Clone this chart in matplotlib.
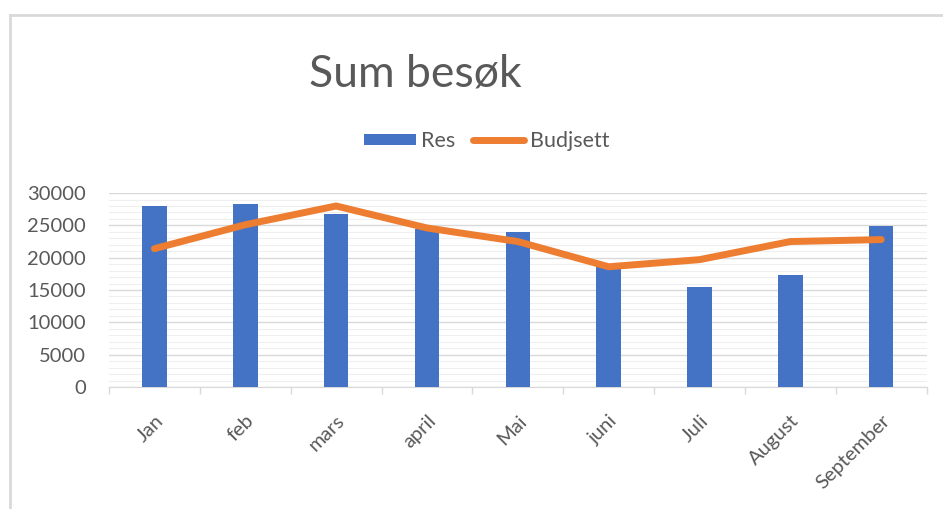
import matplotlib
matplotlib.use("Agg")
import matplotlib.pyplot as plt
from matplotlib.lines import Line2D
import numpy as np

# data
months = ["Jan", "feb", "mars", "april", "Mai", "juni", "Juli", "August", "September"]
res = [28000, 28300, 26800, 24500, 24000, 18700, 15500, 17400, 24900]
budsjett = [21400, 25100, 28000, 24600, 22500, 18600, 19700, 22500, 22800]
yticks = [0, 5000, 10000, 15000, 20000, 25000, 30000]

plt.rcParams["font.family"] = ["Lato", "DejaVu Sans"]
grey = "#595959"

fig = plt.figure(figsize=(9.43, 5.09), dpi=100)
ax = fig.add_axes([0.1156, 0.2397, 0.867, 0.381])

x = np.arange(len(months))
bars = ax.bar(x, res, width=0.27, color="#4472C4", label="Res", zorder=3)
line, = ax.plot(x, budsjett, color="#ED7D31", linewidth=5, solid_capstyle="round",
                solid_joinstyle="round", label="Budjsett", zorder=4)

ax.set_xlim(-0.5, len(months) - 0.5)
ax.set_ylim(0, 30000)
ax.set_yticks(yticks)
ax.set_yticks(np.arange(0, 30001, 1000), minor=True)
ax.yaxis.grid(True, which="major", color="#d9d9d9", linewidth=1, zorder=0)
ax.yaxis.grid(True, which="minor", color="#efefef", linewidth=0.8, zorder=0)
ax.tick_params(axis="y", which="both", length=0, labelsize=14.5, labelcolor=grey, pad=16.5)

ax.set_xticks(x)
ax.set_xticks(np.arange(-0.5, len(months), 1), minor=True)
ax.set_xticklabels(months, rotation=45, ha="right", rotation_mode="anchor")
ax.tick_params(axis="x", which="major", length=0, labelsize=14.5, labelcolor=grey, pad=18)
ax.tick_params(axis="x", which="minor", length=5, color="#d9d9d9", width=1)

for s in ["top", "right", "left"]:
    ax.spines[s].set_visible(False)
ax.spines["bottom"].set_color("#d9d9d9")

fig.text(0.44, 0.855, "Sum besøk", fontsize=32, color=grey, ha="center", va="center")
fig.legend([bars, line], ["Res", "Budjsett"], loc="center", bbox_to_anchor=(0.516, 0.723),
           ncol=2, frameon=False, fontsize=15.5, labelcolor=grey, handlelength=2.4,
           handleheight=0.45, columnspacing=0.8, handletextpad=0.25)

# chart frame (only top and left edges are visible in the crop)
fig.add_artist(Line2D([0.0105, 0.0105], [0, 0.971], color="#d9d9d9", linewidth=2))
fig.add_artist(Line2D([0.0105, 1], [0.971, 0.971], color="#d9d9d9", linewidth=2))

fig.savefig("out.png", dpi=100, facecolor="white")
